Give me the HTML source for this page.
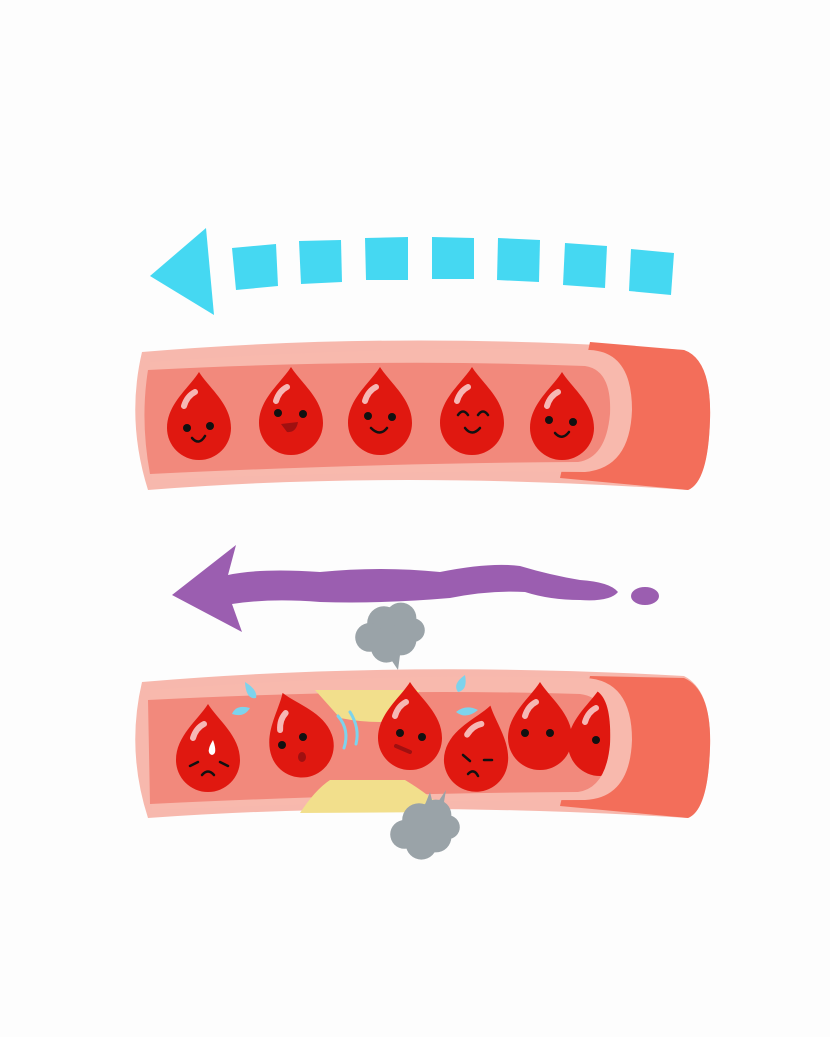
<!DOCTYPE html>
<html><head><meta charset="utf-8"><style>html,body{margin:0;padding:0;background:#fdfdfd}svg{display:block}</style></head>
<body>
<svg width="830" height="1037" viewBox="0 0 830 1037" xmlns="http://www.w3.org/2000/svg">
<defs>
<path id="drop" d="M0,-48 C10,-32 32,-16 32,8 A32,32 0 0 1 -32,8 C-32,-16 -10,-32 0,-48 Z" fill="#e01810"/>
<g id="cell">
<use href="#drop"/>
<path d="M-15,-14 Q-12,-24 -4,-28" stroke="#f6b7b4" stroke-width="6" stroke-linecap="round" fill="none"/>
</g>
<g id="cloud" fill="#9aa3a8">
<circle cx="0" cy="0" r="14"/><circle cx="14" cy="-4" r="13"/><circle cx="-12" cy="12" r="12"/><circle cx="14" cy="14" r="13"/><circle cx="2" cy="20" r="13"/><circle cx="24" cy="6" r="10"/>
</g>
<clipPath id="cc"><path d="M560,690 L595,690 Q612,698 610,744 Q606,788 578,792 L560,792 Z"/></clipPath>
</defs>
<rect width="830" height="1037" fill="#fdfdfd"/>

<g fill="#45d8f2">
<polygon points="150,276 206,228 214,315"/>
<polygon points="232,248 276,244 278,286 236,290"/>
<polygon points="299,241 341,240 342,282 301,284"/>
<polygon points="365,238 408,237 408,280 366,280"/>
<polygon points="432,237 474,238 474,279 432,279"/>
<polygon points="498,238 540,240 539,282 497,280"/>
<polygon points="565,243 607,246 605,288 563,285"/>
<polygon points="631,249 674,253 671,295 629,291"/>
</g>

<path d="M142,352 Q400,330 684,350 Q712,360 710,420 Q708,482 688,490 Q400,470 148,490 Q126,420 142,352 Z" fill="#f7b8ad"/>
<path d="M590,342 L684,350 Q712,360 710,420 Q708,482 688,490 L560,478 Z" fill="#f36e5a"/>
<path d="M150,362 Q380,345 590,350 Q632,352 632,410 Q630,468 585,472 Q380,470 152,480 Z" fill="#f8b9ad"/>
<path d="M148,370 Q380,358 585,366 Q612,370 610,414 Q606,458 578,462 Q380,463 150,474 Q140,420 148,370 Z" fill="#f2897c"/>
<use href="#cell" x="199" y="420"/>
<use href="#cell" x="291" y="415"/>
<use href="#cell" x="380" y="415"/>
<use href="#cell" x="472" y="415"/>
<use href="#cell" x="562" y="420"/>
<g fill="#111">
<circle cx="187" cy="428" r="4"/><circle cx="210" cy="426" r="4"/>
<circle cx="278" cy="413" r="4"/><circle cx="303" cy="414" r="4"/>
<circle cx="368" cy="416" r="4"/><circle cx="392" cy="417" r="4"/>
<circle cx="549" cy="420" r="4"/><circle cx="573" cy="422" r="4"/>
</g>
<g stroke="#111" stroke-width="2.5" fill="none" stroke-linecap="round">
<path d="M192,438 Q199,446 205,436"/>
<path d="M371,428 Q380,437 387,428"/>
<path d="M465,428 Q472,437 480,428"/>
<path d="M458,415 Q463,408 468,415"/><path d="M478,415 Q483,408 488,415"/>
<path d="M555,433 Q562,441 569,432"/>
</g>
<path d="M281,424 L298,422 Q296,433 287,432 Z" fill="#a01010"/>

<g fill="#9b5eb0">
<path d="M172,595 L236,545 L228,575 Q260,568 320,572 Q380,566 440,572 Q490,562 520,566 Q550,575 580,580 Q610,582 618,592 Q610,602 580,600 Q550,600 525,592 Q490,590 450,598 Q380,604 320,602 Q270,598 232,604 L242,632 Z"/>
<ellipse cx="645" cy="596" rx="14" ry="9"/>
</g>

<polygon points="378,640 402,640 398,670" fill="#9aa3a8"/>
<g transform="translate(384,623) scale(1.2)"><use href="#cloud"/></g>

<path d="M142,682 Q400,660 684,676 Q712,690 710,748 Q708,810 688,818 Q400,800 148,818 Q126,750 142,682 Z" fill="#f7b8ad"/>
<path d="M590,676 L684,678 Q712,690 710,748 Q708,810 688,818 L560,806 Z" fill="#f36e5a"/>
<path d="M150,690 Q380,672 585,678 Q632,680 632,740 Q630,798 585,800 Q380,800 152,810 Z" fill="#f8b9ad"/>
<path d="M148,700 Q380,688 580,694 Q612,698 610,744 Q606,788 578,792 Q380,793 150,804 Z" fill="#f2897c"/>
<path d="M315,690 L420,690 Q400,720 380,722 Q360,722 340,718 Z" fill="#f2df8c"/>
<path d="M330,780 L405,780 Q430,795 447,812 L300,813 Q315,790 330,780 Z" fill="#f2df8c"/>
<use href="#cell" x="208" y="752"/>
<g transform="translate(299,738) rotate(-20)"><use href="#cell"/></g>
<use href="#cell" x="410" y="730"/>
<g transform="translate(478,752) rotate(15)"><use href="#cell"/></g>
<use href="#cell" x="540" y="730"/>
<g clip-path="url(#cc)"><use href="#cell" x="600" y="736"/></g>
<g fill="#111">
<circle cx="282" cy="745" r="4"/><circle cx="303" cy="737" r="4"/>
<circle cx="400" cy="733" r="4"/><circle cx="422" cy="737" r="4"/>
<circle cx="525" cy="733" r="4"/><circle cx="550" cy="733" r="4"/>
<circle cx="596" cy="740" r="4"/>
</g>
<path d="M213,740 Q218,754 212,755 Q205,753 213,740 Z" fill="#fff"/>
<g stroke="#111" stroke-width="2.5" fill="none" stroke-linecap="round">
<path d="M190,766 L198,762"/><path d="M220,762 L228,766"/>
<path d="M202,775 Q208,768 214,775"/>
<path d="M463,755 L470,761"/><path d="M484,760 L492,760"/>
<path d="M468,774 Q474,768 478,776"/>
</g>
<ellipse cx="302" cy="757" rx="4" ry="5" fill="#a01010"/>
<path d="M396,746 L410,752" stroke="#a01010" stroke-width="4" stroke-linecap="round"/>
<g fill="#7dd3ec">
<path d="M245,682 Q258,690 256,698 Q246,700 245,682 Z"/>
<path d="M232,714 Q236,704 250,708 Q244,718 232,714 Z"/>
<path d="M465,675 Q468,690 458,692 Q452,684 465,675 Z"/>
<path d="M456,712 Q466,704 478,710 Q466,720 456,712 Z"/>
</g>
<g stroke="#7dd3ec" stroke-width="3" fill="none" stroke-linecap="round">
<path d="M338,716 Q350,730 344,748"/><path d="M350,712 Q360,728 356,744"/>
</g>

<polygon points="418,822 430,792 434,808 446,790 440,826" fill="#9aa3a8"/>
<g transform="translate(419,820) scale(1.2)"><use href="#cloud"/></g>
</svg>
</body></html>
